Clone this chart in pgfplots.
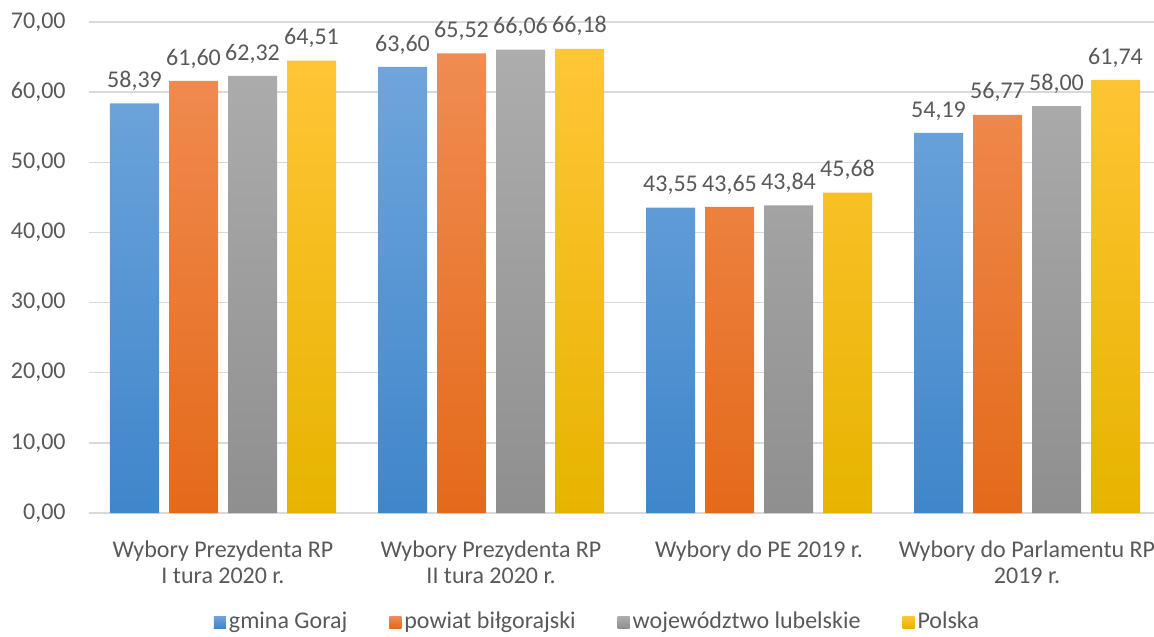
\documentclass[border=0pt]{standalone}
\usepackage{pgfplots}
\pgfplotsset{compat=1.18}
\usepackage{fontspec}
\setmainfont{Carlito}
\definecolor{txt}{HTML}{595959}
\definecolor{grid}{HTML}{D9D9D9}
\definecolor{bluet}{HTML}{6FA5DC}\definecolor{blueb}{HTML}{3F86CA}
\definecolor{oranget}{HTML}{F08C52}\definecolor{orangeb}{HTML}{E46A1A}
\definecolor{grayt}{HTML}{ADADAD}\definecolor{grayb}{HTML}{8F8F8F}
\definecolor{yellowt}{HTML}{FFC637}\definecolor{yellowb}{HTML}{E6B400}
\begin{document}
\begin{tikzpicture}
\begin{axis}[
  at={(44.5pt,61.5pt)}, anchor=south west,
  scale only axis, width=536pt, height=245.5pt,
  ybar=5pt, bar width=24.5pt,
  xmin=-0.5, xmax=3.5, ymin=0, ymax=70,
  xtick={0,1,2,3},
  xticklabels={{Wybory Prezydenta RP\\I tura 2020 r.},{Wybory Prezydenta RP\\II tura 2020 r.},{Wybory do PE 2019 r.},{Wybory do Parlamentu RP\\2019 r.}},
  ytick={0,10,...,70},
  axis x line*=bottom, axis y line*=left,
  x axis line style={draw=grid, line width=1.2pt, -},
  y axis line style={draw=none},
  major tick length=0pt,
  ymajorgrids, grid style={draw=grid, line width=0.75pt},
  clip=false,
  font=\fontsize{12}{13}\selectfont,
  every tick label/.append style={text=txt},
  xticklabel style={align=center, anchor=north, inner sep=0pt, yshift=-13.5pt, font=\fontsize{12}{13}\selectfont},
  yticklabel style={anchor=east, inner sep=0pt, xshift=-11.5pt},
  /pgf/number format/.cd, fixed, fixed zerofill, precision=2, use comma, assume math mode=true,
  /pgfplots/.cd,
  yticklabel={\pgfmathprintnumber{\tick}},
  nodes near coords,
  nodes near coords style={text=txt, anchor=base, inner sep=0pt, yshift=7.9pt, font=\fontsize{12}{13}\selectfont,
    /pgf/number format/.cd, fixed, fixed zerofill, precision=2, use comma, assume math mode=true},
  legend columns=4,
  legend style={draw=none, fill=none, at={(axis description cs:0.4748,-0.222)}, anchor=center,
    font=\fontsize{12}{13}\selectfont, text=txt,
    /tikz/every even column/.append style={column sep=19.5pt},
    nodes={inner sep=1.5pt}},
  legend image code/.code={\path[#1, draw=none] (0pt,-3pt) rectangle (6pt,3pt);},
]
\addplot[draw=none, top color=bluet, bottom color=blueb] coordinates {(0,58.39) (1,63.60) (2,43.55) (3,54.19)};
\addplot[draw=none, top color=oranget, bottom color=orangeb] coordinates {(0,61.60) (1,65.52) (2,43.65) (3,56.77)};
\addplot[draw=none, top color=grayt, bottom color=grayb] coordinates {(0,62.32) (1,66.06) (2,43.84) (3,58.00)};
\addplot[draw=none, top color=yellowt, bottom color=yellowb] coordinates {(0,64.51) (1,66.18) (2,45.68) (3,61.74)};
\legend{gmina Goraj, powiat biłgorajski, województwo lubelskie, Polska}
\end{axis}
\pgfresetboundingbox
\useasboundingbox (0,0) rectangle (577pt,318pt);
\end{tikzpicture}
\end{document}
